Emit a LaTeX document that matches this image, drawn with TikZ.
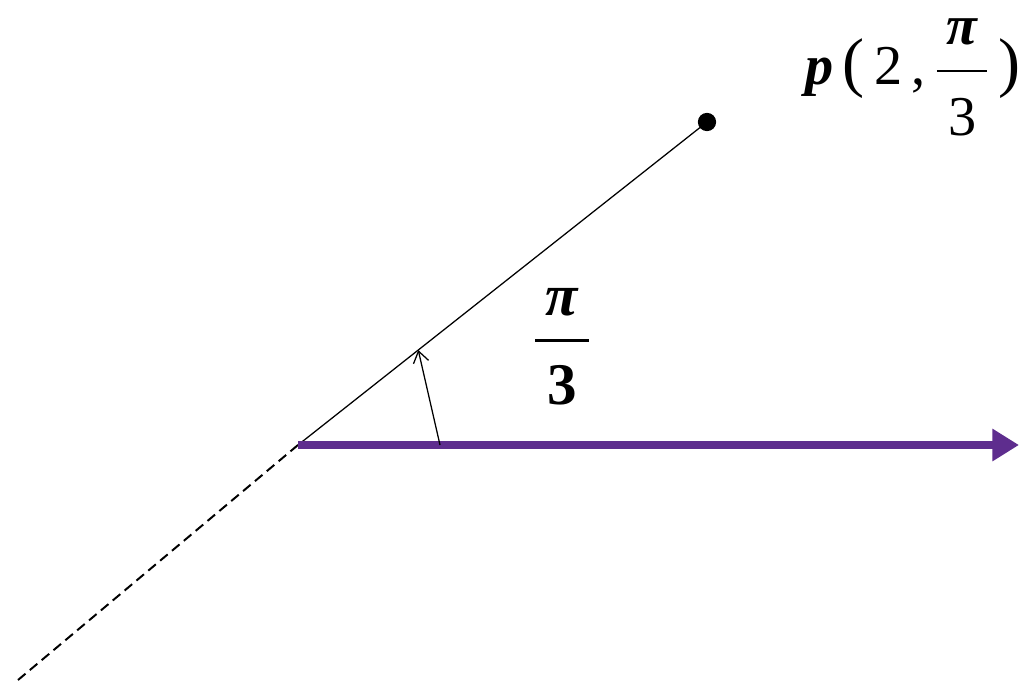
\RequirePackage{fix-cm}
\documentclass[tikz,border=0pt]{standalone}
\usepackage{amsmath}
\usepackage{fontspec}
\setmainfont{Liberation Serif}
\usepackage{tikz}
\usetikzlibrary{arrows.meta,positioning,calc}
\definecolor{axpurple}{HTML}{5E2D8E}
% fraction with room round the bar: #1 gap, #2 top, #3 bottom
\newcommand{\fr}[3]{$\genfrac{}{}{2pt}{0}{\text{\rule[-#1]{0pt}{0pt}\,#2\,}}{\text{\rule{0pt}{\dimexpr0.68em+#1\relax}#3}}$}
\newcommand{\bpi}{\textbf{\textit{π}}}
\tikzset{
  axis/.style={draw=axpurple, line width=5pt, -{Triangle[length=19pt,width=22pt]}},
  ray/.style={draw, line width=0.9pt},
  ext/.style={draw, line width=1.4pt, dash pattern=on 7pt off 4pt},
  ang/.style={draw, line width=0.9pt, -{Straight Barb[length=8pt,width=11pt]}},
  dot/.style={circle, fill, inner sep=0pt, minimum size=13pt},
  lbl/.style={font=\fontsize{40}{44}\selectfont, inner sep=0pt},
  par/.style={font=\fontsize{47}{50}\selectfont}
}

\begin{document}
\begin{tikzpicture}[x=0.025cm, y=0.025cm]
\useasboundingbox (0,0) rectangle (1021,687);
\coordinate (o) at (298,242);
\coordinate (e) at (1019,242);
\coordinate (d) at (18,7);
\coordinate (a) at (440,242);
\node[dot] (p) at (707,565) {};
\coordinate (b) at ($(o)!0.294!(p)$);
% dashed extension behind the pole
\draw[ext] (o) -- (d);
\draw[ray] (o) -- (p.center);
\draw[axis] (o) -- (e);
\draw[ang] (a) -- (b);
\node[lbl, anchor=base west] (plab) at (805,602)
  {\textbf{\textit{p}}\,{\fontsize{47}{50}\selectfont(}\,2\,,\,\fr{12pt}{\bpi}{3}\,{\fontsize{47}{50}\selectfont)}};
\node[lbl, font=\fontsize{42}{46}\selectfont\bfseries] (alab) at (562,340) {\fr{10pt}{\bpi}{3}};
\end{tikzpicture}
\end{document}
